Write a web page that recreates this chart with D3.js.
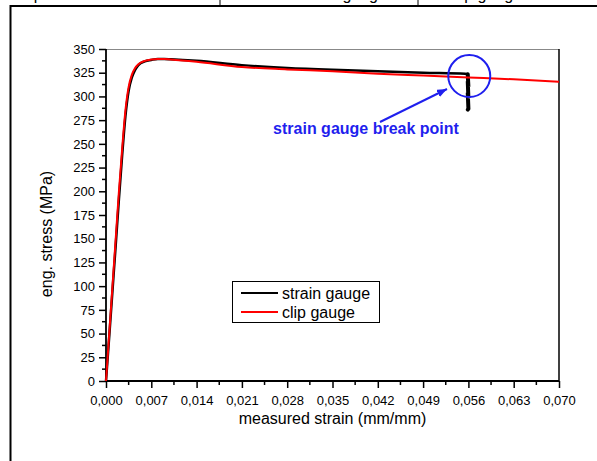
<!DOCTYPE html>
<html>
<head>
<meta charset="utf-8">
<script src="https://cdn.jsdelivr.net/npm/d3@7"></script>
<style>
  body { margin: 0; background: #fff; }
  svg { display: block; font-family: Arial, "Liberation Sans", sans-serif; }
</style>
</head>
<body>
<svg id="chartSVG" width="597" height="461"></svg>
<script>
// clip gauge (red)
var clipStrain = [0, 0.0005, 0.001, 0.0015, 0.002, 0.0025, 0.003, 0.0035, 0.004, 0.0045, 0.005, 0.006, 0.007, 0.008, 0.009, 0.010, 0.014, 0.021, 0.028, 0.035, 0.042, 0.049, 0.056, 0.063, 0.070];
var clipStress = [0, 50, 100, 150, 200, 245, 285, 310, 323, 330, 334, 337.5, 339, 339.5, 339.5, 339, 336.5, 331, 328.5, 326.5, 324, 322, 320, 318, 315.5];

// strain gauge (black) up to the break
var sgStrain = [0, 0.0005, 0.001, 0.0015, 0.002, 0.0025, 0.003, 0.0035, 0.004, 0.0045, 0.005, 0.006, 0.007, 0.008, 0.009, 0.010, 0.014, 0.021, 0.028, 0.035, 0.042, 0.049, 0.0555, 0.0559];
var sgStress = [0, 47, 95, 143, 192, 238, 279, 306, 320, 328, 333, 337, 338.5, 339.5, 339.5, 339.2, 337.5, 333, 330, 328, 326.5, 325, 324, 323.5];

// noisy drop after the gauge broke
var breakStrain = [0.0559, 0.0560, 0.0559, 0.0560, 0.0559, 0.0560, 0.0559];
var breakStress = [323.5, 310, 316, 298, 304, 287, 286];

var xTicks = [0, 0.007, 0.014, 0.021, 0.028, 0.035, 0.042, 0.049, 0.056, 0.063, 0.070];
var yTicks = [0, 25, 50, 75, 100, 125, 150, 175, 200, 225, 250, 275, 300, 325, 350];

var svg = d3.select("svg#chartSVG");

var pLeft = 106, pRight = 559, pTop = 49, pBottom = 381;
var x = d3.scaleLinear().domain([0, 0.070]).range([pLeft, pRight]);
var y = d3.scaleLinear().domain([0, 350]).range([pBottom, pTop]);

var fmt = function(d) { return d3.format(".3f")(d).replace(".", ","); };

// page frame and cut off caption above
svg.append("rect")
  .attr("x", 10.5).attr("y", 6)
  .attr("width", 700).attr("height", 600)
  .attr("fill", "none").attr("stroke", "#000").attr("stroke-width", 2);
svg.append("text")
  .attr("x", 0).attr("y", 0)
  .style("font-size", "16px")
  .text("Comparison of the measured strain of the strain gauge and the clip gauge");
[220, 418].forEach(function(px) {
  svg.append("line").attr("x1", px).attr("x2", px).attr("y1", 0).attr("y2", 6)
    .attr("stroke", "#000").attr("stroke-width", 1);
});

// plot frame
svg.append("line").attr("x1", pLeft).attr("x2", pRight).attr("y1", pTop + 0.5).attr("y2", pTop + 0.5)
  .attr("stroke", "#888").attr("stroke-width", 1);
svg.append("line").attr("x1", pRight).attr("x2", pRight).attr("y1", pTop).attr("y2", pBottom)
  .attr("stroke", "#000").attr("stroke-width", 1.5);

// minor ticks
var xMinor = d3.range(0.0035, 0.070, 0.007);
var yMinor = d3.range(12.5, 350, 25);

var xAxis = d3.axisBottom(x).tickValues(xTicks).tickFormat(fmt).tickSize(7).tickPadding(8);
var gx = svg.append("g").attr("transform", "translate(0," + pBottom + ")").call(xAxis);
gx.attr("font-size", 13).attr("font-family", null);
gx.selectAll("line").attr("stroke-width", 1.5);
gx.select(".domain").attr("stroke-width", 1.8).attr("d", "M" + pLeft + ",0H" + pRight);
gx.selectAll("text").attr("fill", "#000");
gx.selectAll(".minor").data(xMinor).enter().append("line")
  .attr("x1", d => x(d)).attr("x2", d => x(d)).attr("y1", 0).attr("y2", 4)
  .attr("stroke", "#000").attr("stroke-width", 1.5);

var yAxis = d3.axisLeft(y).tickValues(yTicks).tickSize(7).tickPadding(4);
var gy = svg.append("g").attr("transform", "translate(" + pLeft + ",0)").call(yAxis);
gy.attr("font-size", 13).attr("font-family", null);
gy.selectAll("line").attr("stroke-width", 1.5);
gy.select(".domain").attr("stroke-width", 1.8).attr("d", "M0," + pBottom + "V" + pTop);
gy.selectAll("text").attr("fill", "#000");
gy.selectAll(".minor").data(yMinor).enter().append("line")
  .attr("x1", 0).attr("x2", -4).attr("y1", d => y(d)).attr("y2", d => y(d))
  .attr("stroke", "#000").attr("stroke-width", 1.5);

// axis titles
svg.append("text")
  .attr("x", (pLeft + pRight) / 2).attr("y", 424)
  .attr("text-anchor", "middle").style("font-size", "16px")
  .text("measured strain (mm/mm)");
svg.append("text")
  .attr("transform", "translate(52,234) rotate(-90)")
  .attr("text-anchor", "middle").style("font-size", "16px")
  .text("eng. stress (MPa)");

// curves
var line = d3.line().x(d => x(d[0])).y(d => y(d[1])).curve(d3.curveMonotoneX);
var sgData = sgStrain.map((s, i) => [s, sgStress[i]]);
var breakData = breakStrain.map((s, i) => [s, breakStress[i]]);
var clipData = clipStrain.map((s, i) => [s, clipStress[i]]);

svg.append("path").datum(sgData).attr("d", line)
  .attr("fill", "none").attr("stroke", "#000").attr("stroke-width", 2.5);
svg.append("path").datum(breakData).attr("d", d3.line().x(d => x(d[0])).y(d => y(d[1])))
  .attr("fill", "none").attr("stroke", "#000").attr("stroke-width", 4).attr("stroke-linecap", "round");
svg.append("path").datum(clipData).attr("d", line)
  .attr("fill", "none").attr("stroke", "#ff0000").attr("stroke-width", 2);

// annotation
var blue = "#1f1fee";
svg.append("circle")
  .attr("cx", x(0.0559) + 1.5).attr("cy", y(321.5)).attr("r", 21)
  .attr("fill", "none").attr("stroke", blue).attr("stroke-width", 2);

svg.append("defs").append("marker")
  .attr("id", "arrowHead")
  .attr("viewBox", "0 0 10 8").attr("refX", 10).attr("refY", 4)
  .attr("markerWidth", 10).attr("markerHeight", 8)
  .attr("markerUnits", "userSpaceOnUse").attr("orient", "auto")
  .append("path").attr("d", "M0,0L10,4L0,8Z").attr("fill", blue);

svg.append("line")
  .attr("x1", 380).attr("y1", 122).attr("x2", 447).attr("y2", 89)
  .attr("stroke", blue).attr("stroke-width", 2)
  .attr("marker-end", "url(#arrowHead)");

svg.append("text")
  .attr("x", 366).attr("y", 134)
  .attr("text-anchor", "middle").attr("fill", blue)
  .style("font-size", "16px").style("font-weight", "bold")
  .text("strain gauge break point");

// legend
var legendNames = ["strain gauge", "clip gauge"];
var legendColors = ["#000", "#ff0000"];
var lg = svg.append("g").attr("transform", "translate(232,281)");
lg.append("rect").attr("x", 0.5).attr("y", 0.5).attr("width", 147).attr("height", 41)
  .attr("fill", "#fff").attr("stroke", "#000").attr("stroke-width", 1);
lg.selectAll("line.leg").data(legendNames).enter().append("line")
  .attr("x1", 9).attr("x2", 46)
  .attr("y1", (d, i) => 12 + i * 19).attr("y2", (d, i) => 12 + i * 19)
  .attr("stroke", (d, i) => legendColors[i]).attr("stroke-width", 2);
lg.selectAll("text").data(legendNames).enter().append("text")
  .attr("x", 50).attr("y", (d, i) => 17.5 + i * 19)
  .style("font-size", "16px")
  .text(d => d);
</script>
</body>
</html>
